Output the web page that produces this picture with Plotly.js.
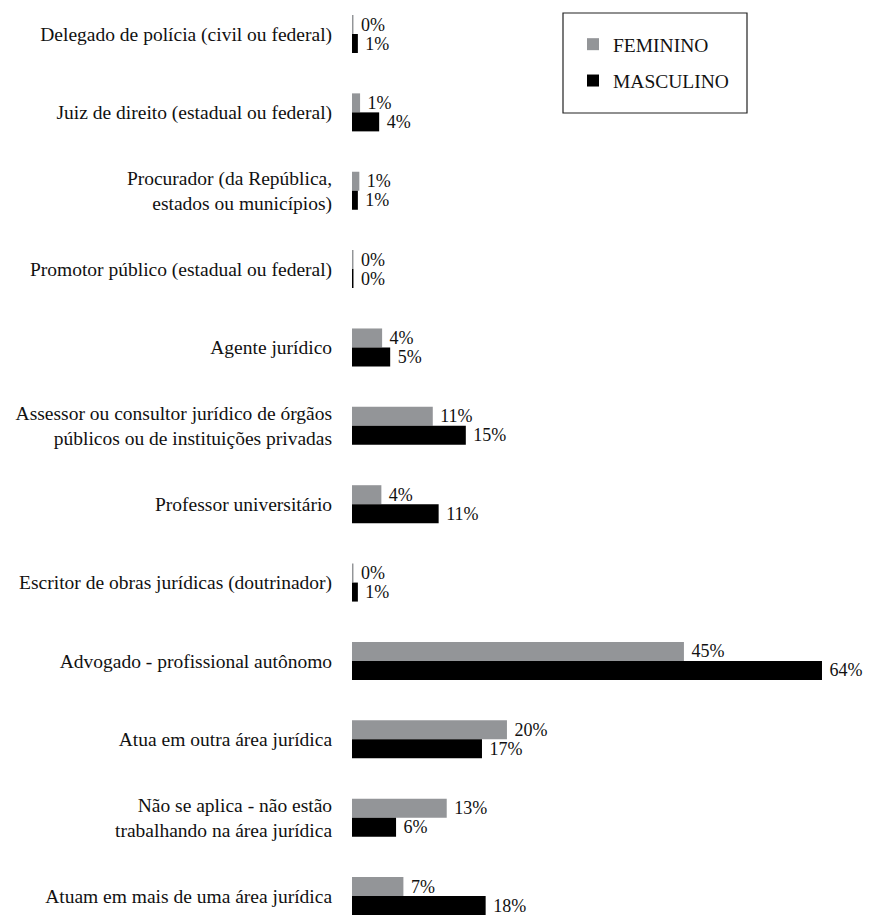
<!DOCTYPE html>
<html>
<head>
<meta charset="utf-8">
<script src="https://cdn.plot.ly/plotly-3.0.1.min.js"></script>
<style>html,body{margin:0;padding:0;background:#fff;}#chart{width:880px;height:915px;}</style>
</head>
<body>
<div id="chart"></div>
<script>
// Categories (top to bottom)
const categories = [
  "Delegado de polícia (civil ou federal)",
  "Juiz de direito (estadual ou federal)",
  "Procurador (da República,<br>estados ou municípios)",
  "Promotor público (estadual ou federal)",
  "Agente jurídico",
  "Assessor ou consultor jurídico de órgãos<br>públicos ou de instituições privadas",
  "Professor universitário",
  "Escritor de obras jurídicas (doutrinador)",
  "Advogado - profissional autônomo",
  "Atua em outra área jurídica",
  "Não se aplica - não estão<br>trabalhando na área jurídica",
  "Atuam em mais de uma área jurídica"
];

// Bar lengths (percent)
const femininoValues  = [0.2, 1.1, 1.0, 0.2, 4.1, 11.0, 4.0, 0.2, 45.2, 21.1, 12.9, 7.0];
const masculinoValues = [0.8, 3.7, 0.8, 0.2, 5.2, 15.5, 11.8, 0.8, 64.0, 17.7, 6.0, 18.2];

// Printed value labels
const femininoLabels  = ["0%", "1%", "1%", "0%", "4%", "11%", "4%", "0%", "45%", "20%", "13%", "7%"];
const masculinoLabels = ["1%", "4%", "1%", "0%", "5%", "15%", "11%", "1%", "64%", "17%", "6%", "18%"];

const seriesNames = ["FEMININO", "MASCULINO"];

const FONT = "Liberation Serif, DejaVu Serif, serif";
const W = 880, H = 915, L = 352;
const px2x = p => (p - L) / (W - L);
const px2y = p => 1 - p / H;

const common = {
  type: 'bar',
  orientation: 'h',
  y: categories,
  textposition: 'outside',
  cliponaxis: true,
  constraintext: 'none',
  textfont: {family: FONT, size: 18, color: '#111'},
  hoverinfo: 'skip'
};

const traces = [
  Object.assign({}, common, {
    name: seriesNames[0], x: femininoValues,
    text: femininoLabels.map(t => '\u00a0' + t),
    marker: {color: '#939598'}, legendgroup: 'f'
  }),
  Object.assign({}, common, {
    name: seriesNames[1], x: masculinoValues,
    text: masculinoLabels.map(t => '\u00a0' + t),
    marker: {color: '#000000'}, legendgroup: 'm'
  })
];

const layout = {
  width: W, height: H,
  margin: {l: L, r: 0, t: 0, b: 0, pad: 0},
  paper_bgcolor: '#fff', plot_bgcolor: '#fff',
  font: {family: FONT, size: 19.5, color: '#111'},
  barmode: 'group',
  bargap: 0.515,
  bargroupgap: 0,
  xaxis: {range: [0, 71.9], visible: false, fixedrange: true},
  yaxis: {
    type: 'category',
    range: [11.242, -0.434],
    showgrid: false, zeroline: false, showline: false,
    ticks: 'outside', ticklen: 15, tickcolor: 'rgba(0,0,0,0)',
    tickfont: {family: FONT, size: 19.5, color: '#111'},
    fixedrange: true
  },
  showlegend: true,
  legend: {
    x: px2x(573), y: px2y(25), xanchor: 'left', yanchor: 'top',
    bgcolor: 'rgba(0,0,0,0)', borderwidth: 0,
    traceorder: 'grouped', tracegroupgap: 8,
    font: {family: FONT, size: 19.5, color: '#111'}
  },
  shapes: [{
    type: 'rect', xref: 'paper', yref: 'paper',
    x0: px2x(563), x1: px2x(747), y0: px2y(13), y1: px2y(113),
    line: {color: '#222', width: 1.2}, fillcolor: 'rgba(0,0,0,0)'
  }]
};

Plotly.newPlot('chart', traces, layout, {displayModeBar: false, staticPlot: true});
</script>
</body>
</html>
